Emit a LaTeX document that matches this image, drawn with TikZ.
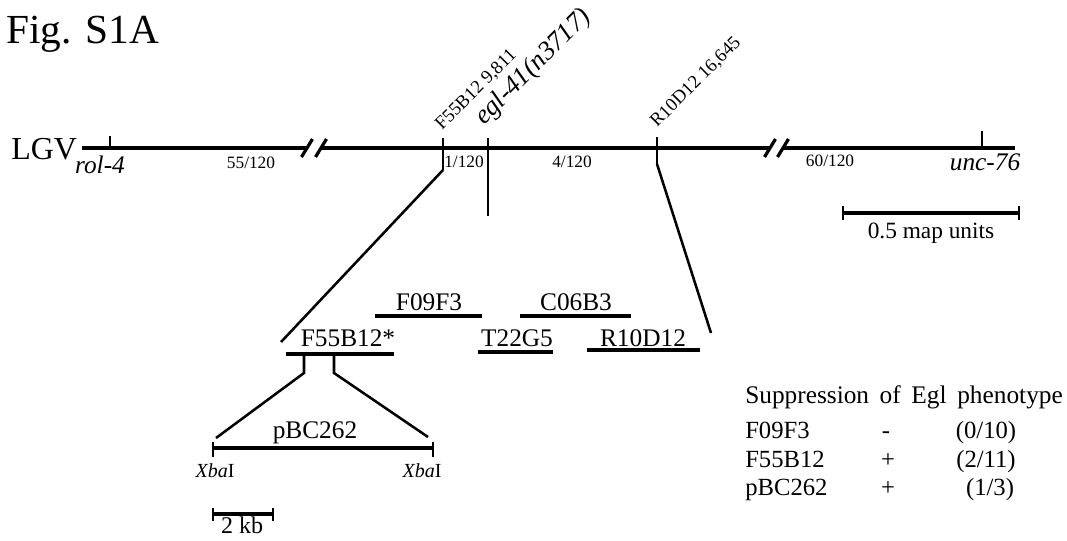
\documentclass[tikz,border=0pt]{standalone}
\usepackage{fontspec}
\setmainfont{Liberation Serif}
\usetikzlibrary{positioning,calc}

\newcommand{\fsz}[1]{\fontsize{#1}{#1}\selectfont}

\begin{document}
\begin{tikzpicture}[x=0.75pt,y=-0.75pt,
  mapline/.style={line width=3pt},
  tickline/.style={line width=2.2pt},
  linkline/.style={line width=1.9pt},
  cloneline/.style={line width=3.6pt},
  brkline/.style={line width=2.4pt},
  distlbl/.style={font=\fsz{13}, anchor=base, inner sep=0pt},
  genelbl/.style={font=\fsz{19}\itshape, anchor=base, inner sep=0pt},
  coslbl/.style={font=\fsz{19}, anchor=base, inner sep=0pt},
  tablbl/.style={font=\fsz{18.5}, anchor=base, inner sep=0pt},
  poslbl/.style={font=\fsz{14}, anchor=base west, rotate=45, inner sep=0pt}]
  \useasboundingbox (0,0) rectangle (1067,540);

  % title
  \node[font=\fsz{31}, anchor=base west, inner sep=0pt] (fig) at (6,43) {Fig. S1A};

  % linkage group V
  \node[font=\fsz{24}, anchor=base west, inner sep=0pt] (lgv) at (11,159) {LGV};
  \coordinate (mapL) at (82,148);
  \coordinate (brkA) at (307,148);
  \coordinate (brkB) at (321,148);
  \coordinate (brkC) at (770,148);
  \coordinate (brkD) at (783,148);
  \coordinate (mapR) at (1015,148);
  \draw[mapline] (mapL) -- (brkA);
  \draw[mapline] (brkB) -- (brkC);
  \draw[mapline] (brkD) -- (mapR);
  \foreach \c in {brkA,brkB,brkC,brkD}
    \draw[brkline] ($(\c)+(-5.5,9)$) -- ($(\c)+(5.5,-9)$);

  % markers on the map
  \draw[tickline] (110,136) -- (110,148);
  \draw[tickline] (982,131) -- (982,148);
  \coordinate (f55top) at (443,138);
  \coordinate (f55bot) at (443,170);
  \coordinate (egltop) at (488,138);
  \coordinate (eglbot) at (488,216);
  \coordinate (r10top) at (657,137);
  \coordinate (r10bot) at (657,164);
  \draw[tickline] (f55top) -- (f55bot);
  \draw[tickline] (egltop) -- (eglbot);
  \draw[tickline] (r10top) -- (r10bot);

  \node[genelbl] (rol) at (100,173) {rol-4};
  \node[genelbl] (unc) at (985,170) {unc-76};
  \node[distlbl] (d55) at (251,168) {55/120};
  \node[distlbl] (d1) at (464,167) {1/120};
  \node[distlbl] (d4) at (572,167) {4/120};
  \node[distlbl] (d60) at (830,166) {60/120};

  \node[poslbl] (f55pos) at (442,131) {F55B12 9,811};
  \node[poslbl, font=\fsz{20}\itshape] (eglpos) at (484,126) {egl-41(n3717)};
  \node[poslbl] (r10pos) at (657,128) {R10D12 16,645};

  % scale bar
  \coordinate (muL) at (843,213);
  \coordinate (muR) at (1019,213);
  \draw[mapline] (muL) -- (muR);
  \draw[tickline] (843,206) -- (843,220);
  \draw[tickline] (1019,206) -- (1019,220);
  \node[font=\fsz{17.5}, anchor=base, inner sep=0pt] (mapbar) at (931,238) {0.5 map units};

  % cosmids
  \node[coslbl] (cf09) at (429,310) {F09F3};
  \node[coslbl] (cc06) at (576,310) {C06B3};
  \node[coslbl] (cf55) at (348,346) {F55B12*};
  \node[coslbl] (ct22) at (517,346) {T22G5};
  \node[coslbl] (cr10) at (643,346) {R10D12};
  \draw[cloneline] (375,316) -- (482,316);
  \draw[cloneline] (520,316) -- (631,316);
  \draw[cloneline] (286,354) -- (394,354);
  \draw[cloneline] (478,352) -- (553,352);
  \draw[cloneline] (587,350) -- (700,350);

  % zoom from map to cosmids
  \coordinate (f55end) at (281,342);
  \coordinate (r10end) at (711,333);
  \draw[linkline] (f55bot) -- (f55end);
  \draw[linkline] (r10bot) -- (r10end);

  % subclone
  \coordinate (pbcL) at (213,448);
  \coordinate (pbcR) at (433,448);
  \draw[linkline] (304,356) -- (304,373) -- (216,438);
  \draw[linkline] (334,356) -- (334,373) -- (428,437);
  \draw[mapline] (pbcL) -- (pbcR);
  \draw[tickline] (213,442) -- (213,457);
  \draw[tickline] (433,442) -- (433,457);
  \node[coslbl] (pbc) at (315,438) {pBC262};
  \node[font=\fsz{15}, anchor=base, inner sep=0pt] (xbaL) at (215,477) {\textit{Xba}I};
  \node[font=\fsz{15}, anchor=base, inner sep=0pt] (xbaR) at (422,477) {\textit{Xba}I};

  % 2 kb bar
  \draw[mapline] (213,514) -- (273,514);
  \draw[tickline] (213,508) -- (213,521);
  \draw[tickline] (273,508) -- (273,521);
  \node[font=\fsz{18}, anchor=base, inner sep=0pt] (kb) at (242,533) {2 kb};

  % rescue results
  \node[tablbl, anchor=base west, font=\fsz{19}] (suptitle) at (745,403) {\spaceskip=0.42em Suppression of Egl phenotype};
  \node[tablbl, anchor=base west] (rowA) at (745,438) {F09F3};
  \node[tablbl, anchor=base west] (rowB) at (745,467) {F55B12};
  \node[tablbl, anchor=base west] (rowC) at (745,495) {pBC262};
  \node[tablbl] (markA) at (886,438) {-};
  \node[tablbl] (markB) at (888,467) {+};
  \node[tablbl] (markC) at (888,495) {+};
  \node[tablbl] (cntA) at (986,438) {(0/10)};
  \node[tablbl] (cntB) at (986,467) {(2/11)};
  \node[tablbl] (cntC) at (990,495) {(1/3)};
\end{tikzpicture}
\end{document}
